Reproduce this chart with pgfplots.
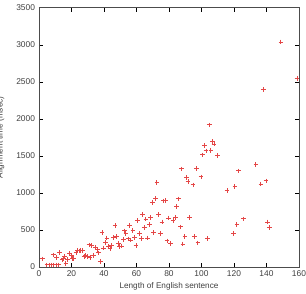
\documentclass[border=0pt]{standalone}
\usepackage{pgfplots}
\pgfplotsset{compat=1.18}
\usepackage{fontspec}
\setmainfont{Liberation Sans}
\definecolor{pts}{RGB}{228,70,70}
\begin{document}
\begin{tikzpicture}[x=1pt,y=1pt]
\begin{axis}[
  at={(0,0)}, anchor=south west,
  width=260pt, height=259.3pt, scale only axis,
  xmin=0, xmax=160, ymin=0, ymax=3500,
  xtick={0,20,...,160}, ytick={0,500,...,3500},
  tick align=inside, major tick length=4pt,
  tick style={black, line width=0.4pt},
  axis line style={black!70, line width=0.6pt},
  /pgf/number format/assume math mode=true,
  /pgf/number format/1000 sep={},
  tick label style={font=\fontsize{8.4}{9}\selectfont, text=black!75},
  label style={font=\fontsize{8.2}{9}\selectfont, text=black!75},
  xlabel={Length of English sentence},
  ylabel={Alignment time (msec)},
  xlabel style={at={(axis description cs:0.5,0)}, anchor=north, yshift=-12.5pt},
  ylabel style={at={(axis description cs:-0.148,0.5)}, anchor=center, rotate=0},
  xticklabel style={yshift=-0.5pt},
  yticklabel style={xshift=-0.5pt},
]
\addplot[only marks, mark=+, mark size=2.3pt, color=pts,
  mark options={draw=pts, line width=1pt}] coordinates {
(2.3,108) (4.9,27) (6.2,27) (7.6,27) (9,27) (10.5,27) (8.8,162) (11.9,27)
(10.9,126) (12.7,198) (14.2,95) (15,117) (15.6,144) (16.6,50) (17.6,103)
(18.9,180) (19.9,157) (20.7,117) (21.5,117) (22.8,198) (23.8,225) (24.8,216)
(25.8,225) (26.7,220) (27.7,144) (28.7,157) (29.7,144) (30.8,297) (31.4,130)
(32.6,288) (33.6,153) (34.9,261) (35.9,238) (36.7,189) (37.7,76) (38.8,463)
(39.8,256) (41,328) (41.8,391) (42.9,279) (43.7,252) (44.7,292) (45.9,396)
(46.8,558) (47.8,409) (48.8,315) (49.6,274) (50.7,283) (51.9,369) (52.7,486)
(53.5,454) (54.8,378) (55.8,558) (56.6,364) (57.8,490) (58.9,396) (59.7,292)
(60.7,625) (61.9,454) (63,387) (63.8,711) (64.8,535) (65.8,647) (66.7,391)
(67.9,576) (68.7,665) (69.7,868) (70.6,468) (71.6,922) (72.6,1138) (73.6,711)
(74.7,454) (75.7,607) (76.5,891) (78,900) (78.8,351) (79.8,661) (81,319)
(82.5,630) (83.9,670) (84.5,814) (85.7,918) (87,540) (87.8,1323) (88.6,310)
(89.8,409) (90.7,1210) (91.7,1152) (92.7,670) (94.8,1107) (95.6,414)
(96.8,1327) (97.8,324) (99.7,1215) (100.7,1512) (101.9,1638) (102.8,1566)
(103.8,387) (104.8,1917) (105.8,1575) (106.7,1696) (107.7,1660) (109.7,1507)
(115.7,1030) (119.8,450) (120.6,1084) (121.8,576) (122.7,1296) (125.9,648)
(133.5,1381) (136.6,1120) (138,2393) (139.7,1161) (140.7,607) (141.7,535)
(148.9,3037) (158.8,2542)
};
\end{axis}
\pgfresetboundingbox
\useasboundingbox (-39,-27) rectangle (267,267);
\end{tikzpicture}
\end{document}
